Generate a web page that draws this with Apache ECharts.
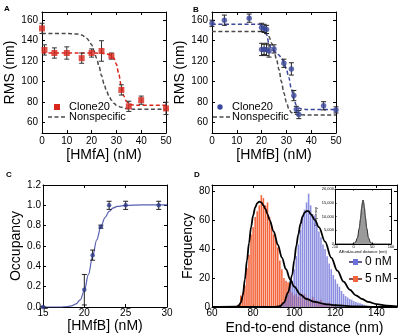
<!DOCTYPE html>
<html><head><meta charset="utf-8">
<script src="https://cdn.jsdelivr.net/npm/echarts@6/dist/echarts.min.js"></script>
<style>html,body{margin:0;padding:0;background:#fff}#c{width:400px;height:336px}</style>
</head><body><div id="c"></div>
<script>
// ---------- Panel A ----------
const aX   = [0, 1, 5, 10, 16, 20, 24, 28, 32, 35, 40, 50];
const aY   = [152, 131, 128, 128, 123, 128, 130, 125, 92, 76, 82, 74];
const aErr = [5, 5, 5, 6, 5, 4, 10, 3, 5, 5, 4, 6];
const aFitX = [0, 10, 20, 24, 26, 27, 28, 29, 30, 31, 32, 33, 34, 35, 36, 38, 50];
const aFitY = [128, 128, 128, 127.8, 127.2, 126.5, 125.5, 123, 117, 107, 95, 86, 81, 78.5, 77.5, 77, 77];
const aNsX = [0, 10, 14, 16, 18, 19, 20, 21, 22, 23, 24, 25, 26, 27, 28, 29, 30, 32, 34, 37, 50];
const aNsY = [147, 147, 146.5, 145.5, 142.5, 140, 136, 130, 123, 115, 106, 98, 91, 86, 82, 79, 77, 75, 73.8, 73.2, 73];
// ---------- Panel B ----------
const bX   = [0, 5, 15, 20, 21, 22, 20, 21, 22, 23, 25, 29, 32, 33, 34, 35, 45, 50];
const bY   = [157, 160, 162, 153, 152, 151, 131.5, 131.5, 131.5, 130, 132, 118, 112.5, 86.5, 73, 68, 76.5, 72.5];
const bErr = [3, 5, 4, 4, 4, 4, 6, 5, 6, 6, 4, 4, 6, 5, 3, 4, 4, 3];
const bFitX = [0, 19, 20, 21, 22, 23, 24, 25, 26, 27, 28, 29, 30, 31, 32, 33, 34, 35, 36, 38, 50];
const bFitY = [156, 156, 155.5, 153, 146, 137, 132, 130, 128.5, 126, 123, 119, 112, 104, 93, 83, 77, 74.5, 73.5, 73, 73];
const bNsX = [0, 20, 21, 22, 23, 24, 25, 26, 27, 28, 29, 30, 31, 32, 33, 35, 40, 50];
const bNsY = [149, 149, 148.5, 147, 144, 138, 130, 122, 112, 100, 89, 80, 73.5, 70, 68.5, 67.7, 67.5, 67.5];
// ---------- Panel C ----------
const cX   = [15, 20, 21, 22, 23, 25, 29];
const cY   = [0, 0.17, 0.51, 0.79, 1.0, 1.0, 1.0];
const cErr = [0, 0.15, 0.05, 0.015, 0.04, 0.04, 0.04];
const cFitX = [15, 17, 18, 18.5, 19, 19.5, 20, 20.5, 21, 21.5, 22, 22.5, 23, 23.5, 24, 25, 27, 30];
const cFitY = [0, 0, 0.005, 0.012, 0.03, 0.07, 0.16, 0.32, 0.5, 0.66, 0.79, 0.88, 0.94, 0.975, 0.99, 1.0, 1.005, 1.005];
// ---------- Panel D (histograms, 1 nm bins) ----------
const dRedBins = [73,74,75,76,77,78,79,80,81,82,83,84,85,86,87,88,89,90,91,92,93,94,95,96,97,98,99,100,101,102,103,104,105,106,107,108,109,110,111,112,113,114,115,116,117,118,119,120];
const dRedVals = [2,8,10,15,27,36,50,55,62,66,70,77,75,70,72,62,56,50,46,41,32,26,20,18,17,16,10,8,9,7,10,8,9,7,6,5,7,5,4,4,5,3,3,2,3,2,1,1];
const dBlueBins = [93,94,95,96,97,98,99,100,101,102,103,104,105,106,107,108,109,110,111,112,113,114,115,116,117,118,119,120,121,122,123,124,125,126,127,128,129,130,131,132,133,134,135,136];
const dBlueVals = [1,2,3,5,9,14,18,26,35,43,53,63,67,72,78,70,64,63,58,52,48,43,40,35,30,26,22,19,16,14,11,9,7.5,6.5,5.5,5,4,3.5,3,2.5,2,1.5,1,0.5];
const dRedFitX = [60,72,73,74,75,76,77,78,79,80,81,82,83,84,85,86,87,88,90,92,94,96,98,100,103,106,110,115,120,130,140,150];
const dRedFitY = [0,0.3,1,3,8,19,32,44,55,63,68.5,71.5,72.5,72,70,67.5,64,60,52,43,34,26,19,14,8.5,5.5,3.5,2,1.2,0.4,0.1,0];
const dBlueFitX = [60,90,93,95,97,99,100,101,102,103,104,105,106,107,108,110,112,115,118,121,124,127,130,133,136,140,145,150];
const dBlueFitY = [0,0,0.5,3,10,22,32,42,50,57,62,65,66,66,64,60,55,45,34,25,17.5,12,8,5.5,3.5,2,1,0.5];
// ---------- Inset ----------
const inX = [-50,-5,0,5,10,15,18,21,23,25,27,29,32,35,40,45,50,55,100];
const inY = [0,0,150,700,2300,5800,9000,12800,14900,16000,15100,13000,9300,5800,2200,600,120,0,0];
// ---------- Tick labels ----------
const rmsTicks = [60, 80, 100, 120, 140, 160];
const hmTicksAB = [0, 10, 20, 30, 40, 50];
const occTicks = [0, 0.2, 0.4, 0.6, 0.8, 1.0, 1.2];
const hmTicksC = [15, 20, 25, 30];
const freqTicks = [0, 20, 40, 60, 80];
const distTicks = [60, 80, 100, 120, 140];
const inXTicks = [-50, 0, 50, 100];
const inYTicks = [0, 5000, 10000, 15000, 20000];

const FONT = 'Liberation Sans, Arial, sans-serif';
const RED = '#d8261c', GRAY = '#4a4a4a', BLUE = '#3a479c';
const zip = (xs, ys) => xs.map((x, i) => [x, ys[i]]);

function xAx(grid, min, max, ticks, o) {
  return [{
    type: 'value', gridIndex: grid, min, max, position: 'bottom',
    axisLine: {show: true, onZero: false, lineStyle: {color: '#000', width: 1}},
    axisTick: {show: true, inside: true, length: o.tl, customValues: ticks, lineStyle: {color: '#000'}},
    axisLabel: {show: true, customValues: ticks, fontSize: o.fs, margin: o.lm, color: '#000', fontFamily: FONT, formatter: o.fmt},
    splitLine: {show: false},
    name: o.name, nameLocation: 'middle', nameGap: o.ng,
    nameTextStyle: {fontSize: o.nfs, fontFamily: FONT, color: '#000'}
  }, {
    type: 'value', gridIndex: grid, min, max, position: 'top',
    axisLine: {show: true, onZero: false, lineStyle: {color: '#000', width: 1}},
    axisTick: {show: true, inside: true, length: o.tl, customValues: ticks, lineStyle: {color: '#000'}},
    axisLabel: {show: false}, splitLine: {show: false}
  }];
}
function yAx(grid, min, max, ticks, o) {
  return [{
    type: 'value', gridIndex: grid, min, max, position: 'left',
    axisLine: {show: true, onZero: false, lineStyle: {color: '#000', width: 1}},
    axisTick: {show: true, inside: true, length: o.tl, customValues: ticks, lineStyle: {color: '#000'}},
    axisLabel: {show: true, customValues: ticks, fontSize: o.fs, margin: o.lm, color: '#000', fontFamily: FONT, formatter: o.fmt},
    splitLine: {show: false},
    name: o.name, nameLocation: 'middle', nameGap: o.ng,
    nameTextStyle: {fontSize: o.nfs, fontFamily: FONT, color: '#000'}
  }, {
    type: 'value', gridIndex: grid, min, max, position: 'right',
    axisLine: {show: true, onZero: false, lineStyle: {color: '#000', width: 1}},
    axisTick: {show: true, inside: true, length: o.tl, customValues: ticks, lineStyle: {color: '#000'}},
    axisLabel: {show: false}, splitLine: {show: false}
  }];
}

function errSeries(ai, xs, ys, errs, color) {
  return {
    type: 'custom', xAxisIndex: ai, yAxisIndex: ai, silent: true, z: 3,
    data: xs.map((x, i) => [x, ys[i] - errs[i], ys[i] + errs[i]]),
    encode: {x: 0, y: [1, 2]},
    renderItem: (params, api) => {
      const lo = api.coord([api.value(0), api.value(1)]);
      const hi = api.coord([api.value(0), api.value(2)]);
      const w = 2.5;
      const st = {stroke: color, lineWidth: 1};
      return {type: 'group', children: [
        {type: 'line', shape: {x1: lo[0], y1: lo[1], x2: hi[0], y2: hi[1]}, style: st},
        {type: 'line', shape: {x1: lo[0] - w, y1: lo[1], x2: lo[0] + w, y2: lo[1]}, style: st},
        {type: 'line', shape: {x1: hi[0] - w, y1: hi[1], x2: hi[0] + w, y2: hi[1]}, style: st}
      ]};
    }
  };
}
function histSeries(ai, bins, vals, color, opacity, z) {
  return {
    type: 'custom', xAxisIndex: ai, yAxisIndex: ai, silent: true, z: z,
    data: bins.map((b, i) => [b, vals[i]]),
    encode: {x: 0, y: 1},
    renderItem: (params, api) => {
      const x = api.value(0), v = api.value(1);
      const p0 = api.coord([x - 0.5, v]);
      const p1 = api.coord([x + 0.5, 0]);
      return {type: 'rect', shape: {x: p0[0] + 0.25, y: p0[1], width: p1[0] - p0[0] - 0.5, height: p1[1] - p0[1]},
              style: {fill: color, opacity: opacity}};
    }
  };
}
function lineSeries(ai, xs, ys, color, width, dashed, z) {
  return {
    type: 'line', xAxisIndex: ai, yAxisIndex: ai, data: zip(xs, ys), showSymbol: false, silent: true,
    smooth: 0.35, smoothMonotone: 'x', z: z || 2,
    lineStyle: {color: color, width: width, type: dashed ? [4, 2.5] : 'solid'}
  };
}

const tickOpt = {tl: 3, fs: 10, lm: 3, nfs: 14};
const xAxes = [].concat(
  xAx(0, 0, 50, hmTicksAB, Object.assign({}, tickOpt, {name: '[HMfA] (nM)', ng: 15, lm: 3})),
  xAx(1, 0, 50, hmTicksAB, Object.assign({}, tickOpt, {name: '[HMfB] (nM)', ng: 15, lm: 3})),
  xAx(2, 15, 30, hmTicksC, Object.assign({}, tickOpt, {name: '[HMfB] (nM)', ng: 11, lm: 1})),
  xAx(3, 60, 150, distTicks, Object.assign({}, tickOpt, {name: 'End-to-end distance (nm)', ng: 14, lm: 1})),
  xAx(4, -50, 100, inXTicks, {tl: 1.5, fs: 4, lm: 1, nfs: 4, name: 'ΔEnd-to-end distance (nm)', ng: 6})
);
const yAxes = [].concat(
  yAx(0, 50, 168, rmsTicks, Object.assign({}, tickOpt, {name: 'RMS (nm)', ng: 20, lm: 4})),
  yAx(1, 50, 168, rmsTicks, Object.assign({}, tickOpt, {name: 'RMS (nm)', ng: 18, lm: 4})),
  yAx(2, 0, 1.2, occTicks, Object.assign({}, tickOpt, {name: 'Occupancy', ng: 17, lm: 2, fmt: v => v.toFixed(1)})),
  yAx(3, 0, 84, freqTicks, Object.assign({}, tickOpt, {name: 'Frequency', ng: 13, lm: 2})),
  yAx(4, 0, 20000, inYTicks, {tl: 1.5, fs: 4, lm: 1, nfs: 4, name: 'Frequency', ng: 12})
);

const series = [
  // A
  lineSeries(0, aNsX, aNsY, GRAY, 1.5, true),
  lineSeries(0, aFitX, aFitY, RED, 1.5, true),
  errSeries(0, aX, aY, aErr, '#333'),
  {type: 'scatter', xAxisIndex: 0, yAxisIndex: 0, data: zip(aX, aY), symbol: 'rect', symbolSize: 6, itemStyle: {color: RED}, z: 4},
  // B
  lineSeries(2, bNsX, bNsY, GRAY, 1.5, true),
  lineSeries(2, bFitX, bFitY, BLUE, 1.5, true),
  errSeries(2, bX, bY, bErr, '#222'),
  {type: 'scatter', xAxisIndex: 2, yAxisIndex: 2, data: zip(bX, bY), symbol: 'circle', symbolSize: 5.5, itemStyle: {color: BLUE}, z: 4},
  // C
  lineSeries(4, cFitX, cFitY, '#5860b2', 1.2, false),
  errSeries(4, cX, cY, cErr, '#222'),
  {type: 'scatter', xAxisIndex: 4, yAxisIndex: 4, data: zip(cX, cY), symbol: 'circle', symbolSize: 4.5, itemStyle: {color: '#2e3a8c'}, z: 4},
  // D
  histSeries(6, dRedBins, dRedVals, '#f3643a', 1, 2),
  histSeries(6, dBlueBins, dBlueVals, '#6d70d8', 0.8, 3),
  lineSeries(6, dRedFitX, dRedFitY, '#000', 1.8, false, 5),
  lineSeries(6, dBlueFitX, dBlueFitY, '#000', 1.8, false, 5),
  // inset
  {type: 'line', xAxisIndex: 8, yAxisIndex: 8, data: zip(inX, inY), showSymbol: false, silent: true, smooth: 0.35, smoothMonotone: 'x',
   lineStyle: {color: '#000', width: 0.8}, areaStyle: {color: '#9a9a9a', opacity: 1}, z: 6}
];

const lbl = (t, x, y, fs, bold) => ({type: 'text', left: x, top: y, style: {text: t, font: (bold ? 'bold ' : '') + fs + 'px ' + FONT, fill: '#000'}});
const graphic = [
  lbl('A', 4, 5, 8, true), lbl('B', 193, 6, 8, true), lbl('C', 6, 171, 8, true), lbl('D', 194, 171, 8, true),
  // legend A
  {type: 'rect', shape: {x: 54, y: 104, width: 6, height: 6}, style: {fill: RED}},
  {type: 'text', x: 69, y: 107, style: {text: 'Clone20', font: '11px ' + FONT, fill: '#000', verticalAlign: 'middle'}},
  {type: 'line', shape: {x1: 48, y1: 117, x2: 66, y2: 117}, style: {stroke: GRAY, lineWidth: 1.5, lineDash: [4, 2.5]}},
  {type: 'text', x: 69, y: 117, style: {text: 'Nonspecific', font: '11px ' + FONT, fill: '#000', verticalAlign: 'middle'}},
  // legend B
  {type: 'circle', shape: {cx: 220, cy: 107, r: 2.7}, style: {fill: BLUE}},
  {type: 'text', x: 232, y: 107, style: {text: 'Clone20', font: '11px ' + FONT, fill: '#000', verticalAlign: 'middle'}},
  {type: 'line', shape: {x1: 213, y1: 117, x2: 230, y2: 117}, style: {stroke: GRAY, lineWidth: 1.5, lineDash: [4, 2.5]}},
  {type: 'text', x: 232, y: 117, style: {text: 'Nonspecific', font: '11px ' + FONT, fill: '#000', verticalAlign: 'middle'}},
  // legend D
  {type: 'line', shape: {x1: 349, y1: 262, x2: 362, y2: 262}, style: {stroke: '#2a2a6a', lineWidth: 1.5}},
  {type: 'rect', shape: {x: 353, y: 259, width: 5, height: 6}, style: {fill: '#6d70d8'}},
  {type: 'text', x: 365, y: 262, style: {text: '0 nM', font: '12px ' + FONT, fill: '#000', verticalAlign: 'middle'}},
  {type: 'line', shape: {x1: 349, y1: 279, x2: 362, y2: 279}, style: {stroke: '#5a1a10', lineWidth: 1.5}},
  {type: 'rect', shape: {x: 353, y: 276, width: 5, height: 6}, style: {fill: '#f3643a'}},
  {type: 'text', x: 365, y: 279, style: {text: '5 nM', font: '12px ' + FONT, fill: '#000', verticalAlign: 'middle'}}
];

const chart = echarts.init(document.getElementById('c'), null, {renderer: 'canvas'});
chart.setOption({
  animation: false,
  backgroundColor: '#fff',
  textStyle: {fontFamily: FONT},
  grid: [
    {left: 42, top: 12, width: 124, height: 121},
    {left: 212, top: 12, width: 124, height: 121},
    {left: 43, top: 185, width: 124, height: 122},
    {left: 212, top: 185, width: 185, height: 122},
    {left: 335, top: 189, width: 56, height: 55, z: 10}
  ],
  xAxis: xAxes,
  yAxis: yAxes,
  series: series,
  graphic: graphic
});
</script>
</body></html>
